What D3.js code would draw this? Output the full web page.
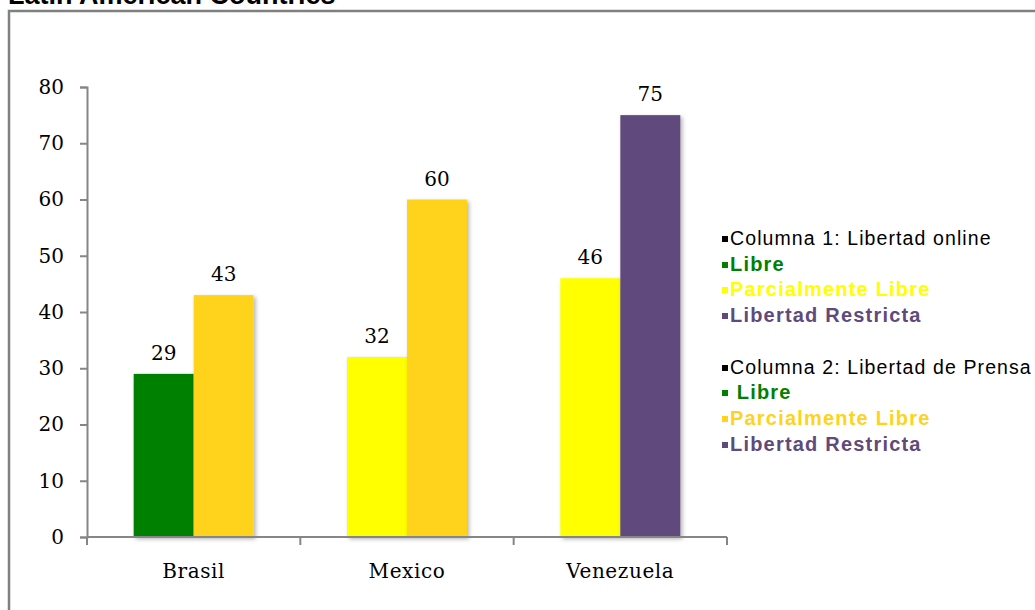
<!DOCTYPE html>
<html>
<head>
<meta charset="utf-8">
<script src="https://cdn.jsdelivr.net/npm/d3@7/dist/d3.min.js"></script>
<style>
  html, body { margin: 0; padding: 0; background: #fff; overflow: hidden; }
  svg { display: block; }
</style>
</head>
<body>
<svg id="chart" width="1035" height="610"></svg>
<script>
// Country categories and the two columns per country
const countries = ["Brasil", "Mexico", "Venezuela"];
const onlineValues = [29, 32, 46];   // Columna 1: Libertad online
const pressValues = [43, 60, 75];    // Columna 2: Libertad de Prensa
const onlineStatus = ["Libre", "Parcialmente Libre", "Parcialmente Libre"];
const pressStatus = ["Parcialmente Libre", "Parcialmente Libre", "Libertad Restricta"];
const yTicks = [0, 10, 20, 30, 40, 50, 60, 70, 80];

// status colours for each column
const onlineColors = { "Libre": "#008000", "Parcialmente Libre": "#FFFF00", "Libertad Restricta": "#604A7B" };
const pressColors = { "Libre": "#008000", "Parcialmente Libre": "#FFD31A", "Libertad Restricta": "#604A7B" };

const legendLines = [
  { text: "Columna 1: Libertad online", color: "#000", bold: false },
  { text: "Libre", color: "#008000", bold: true },
  { text: "Parcialmente Libre", color: "#FFFF00", bold: true },
  { text: "Libertad Restricta", color: "#604A7B", bold: true },
  null,
  { text: "Columna 2: Libertad de Prensa", color: "#000", bold: false },
  { text: " Libre", color: "#008000", bold: true },
  { text: "Parcialmente Libre", color: "#FFD31A", bold: true },
  { text: "Libertad Restricta", color: "#604A7B", bold: true }
];

const svg = d3.select("#chart");

// soft shadow under the bars
const defs = svg.append("defs");
const f = defs.append("filter").attr("id", "shadow")
  .attr("x", "-20%").attr("y", "-20%").attr("width", "140%").attr("height", "140%");
f.append("feDropShadow").attr("dx", 2).attr("dy", 2).attr("stdDeviation", 2)
  .attr("flood-color", "#000").attr("flood-opacity", 0.3);

// title (runs off the top edge)
svg.append("text")
  .attr("x", 8).attr("y", 4)
  .attr("font-family", "'Liberation Sans', Arial, sans-serif")
  .attr("font-weight", "bold").attr("font-size", 27)
  .attr("fill", "#000")
  .text("Latin American Countries");

// frame
svg.append("path")
  .attr("d", "M9,610 V11 H1035")
  .attr("fill", "none").attr("stroke", "#808080").attr("stroke-width", 2.5);

const x = d3.scaleBand().domain(countries).range([87, 727]).paddingInner(0).paddingOuter(0);
const x1 = d3.scaleBand().domain(["online", "press"]).range([0, x.bandwidth()])
  .paddingInner(0).paddingOuter(0.778);
const y = d3.scaleLinear().domain([0, 80]).range([537, 87]);

const rows = countries.map((c, i) => ({
  country: c,
  bars: [
    { key: "online", value: onlineValues[i], color: onlineColors[onlineStatus[i]] },
    { key: "press", value: pressValues[i], color: pressColors[pressStatus[i]] }
  ]
}));

const serif = "'DejaVu Serif', serif";

// bars
const groups = svg.append("g").selectAll("g").data(rows).join("g")
  .attr("transform", d => `translate(${x(d.country)},0)`);
groups.selectAll("rect").data(d => d.bars).join("rect")
  .attr("x", d => x1(d.key))
  .attr("y", d => y(d.value))
  .attr("width", x1.bandwidth())
  .attr("height", d => y(0) - y(d.value))
  .attr("fill", d => d.color)
  .attr("filter", "url(#shadow)");

// value labels
groups.selectAll("text").data(d => d.bars).join("text")
  .attr("x", d => x1(d.key) + x1.bandwidth() / 2)
  .attr("y", d => y(d.value) - 14)
  .attr("text-anchor", "middle")
  .attr("font-family", serif).attr("font-size", 20)
  .attr("fill", "#000")
  .text(d => d.value);

// y axis
const yAxis = svg.append("g").attr("transform", "translate(87,0)")
  .call(d3.axisLeft(y).tickValues(yTicks).tickSize(7).tickPadding(16));
yAxis.select(".domain").attr("stroke", "#868686").attr("stroke-width", 2);
yAxis.selectAll(".tick line").attr("stroke", "#868686").attr("stroke-width", 2);
yAxis.selectAll(".tick text").attr("font-family", serif).attr("font-size", 20).attr("fill", "#000");

// x axis with ticks at category boundaries
const xAxis = svg.append("g").attr("transform", "translate(0,537)");
xAxis.append("line").attr("x1", 87).attr("x2", 727).attr("y1", 0).attr("y2", 0)
  .attr("stroke", "#868686").attr("stroke-width", 2);
const boundaries = countries.map(c => x(c)).concat([x(countries[countries.length - 1]) + x.bandwidth()]);
xAxis.selectAll("line.tk").data(boundaries).join("line").attr("class", "tk")
  .attr("x1", d => d).attr("x2", d => d).attr("y1", 0).attr("y2", 8)
  .attr("stroke", "#868686").attr("stroke-width", 2);
xAxis.selectAll("text").data(countries).join("text")
  .attr("x", d => x(d) + x.bandwidth() / 2)
  .attr("y", 41)
  .attr("text-anchor", "middle")
  .attr("font-family", serif).attr("font-size", 20)
  .attr("letter-spacing", "0.6")
  .attr("fill", "#000")
  .text(d => d);

// legend
const legend = svg.append("g").attr("transform", "translate(722,0)");
const legendY = [245, 271, 296, 322, null, 374, 399, 425, 451];
legendLines.forEach((l, i) => {
  if (!l) return;
  const ly = legendY[i];
  legend.append("rect").attr("x", 0).attr("y", ly - 9).attr("width", 6).attr("height", 6).attr("fill", l.color);
  legend.append("text")
    .attr("x", 8).attr("y", ly)
    .attr("font-family", "'Liberation Sans', Arial, sans-serif")
    .attr("font-size", l.bold ? 20 : 19.5)
    .attr("font-weight", l.bold ? "bold" : "normal")
    .attr("letter-spacing", l.bold ? "1.2" : "1.1")
    .attr("fill", l.color)
    .attr("xml:space", "preserve")
    .style("white-space", "pre")
    .text(l.text);
});
</script>
</body>
</html>
